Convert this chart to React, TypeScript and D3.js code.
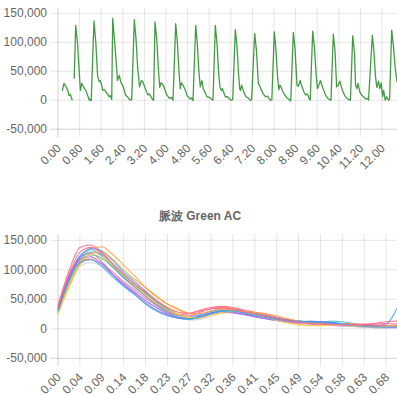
import React from 'react';
import * as d3 from 'd3';

const W = 397;
const H = 395;

// top chart: raw green signal (time in s, value in thousands)
const greenTimes = [
  0.16, 0.22, 0.29, 0.36, 0.41, 0.46, 0.49, 0.53, 0.565, 0.6, 0.656,
  0.72, 0.79, 0.83, 0.88, 0.93, 0.98, 1.03, 1.1, 1.16, 1.2, 1.23, 1.333,
  1.4, 1.47, 1.53, 1.56, 1.6, 1.66, 1.72, 1.83, 1.89, 1.94, 1.99, 2.026,
  2.09, 2.17, 2.2, 2.27, 2.32, 2.42, 2.5, 2.57, 2.67, 2.73, 2.826,
  2.89, 2.95, 3.02, 3.09, 3.14, 3.26, 3.33, 3.38, 3.48, 3.54, 3.593,
  3.66, 3.72, 3.77, 3.81, 3.86, 3.91, 3.96, 4.02, 4.08, 4.14, 4.2, 4.26, 4.359,
  4.42, 4.48, 4.53, 4.57, 4.62, 4.67, 4.72, 4.78, 4.84, 4.9, 4.95, 5.0, 5.1,
  5.16, 5.22, 5.27, 5.33, 5.38, 5.44, 5.52, 5.6, 5.68, 5.74, 5.826,
  5.89, 5.95, 6.0, 6.05, 6.09, 6.13, 6.2, 6.27, 6.35, 6.42, 6.47, 6.567,
  6.63, 6.69, 6.73, 6.76, 6.8, 6.88, 6.96, 7.04, 7.12, 7.17, 7.285,
  7.35, 7.42, 7.46, 7.51, 7.6, 7.69, 7.76, 7.86, 7.92, 8.011,
  8.07, 8.13, 8.18, 8.22, 8.27, 8.31, 8.36, 8.42, 8.48, 8.54, 8.58, 8.62, 8.715,
  8.78, 8.85, 8.9, 8.97, 9.03, 9.1, 9.17, 9.24, 9.3, 9.34, 9.433,
  9.5, 9.56, 9.61, 9.66, 9.72, 9.78, 9.84, 9.91, 9.98, 10.06, 10.11, 10.196,
  10.26, 10.32, 10.38, 10.44, 10.5, 10.56, 10.62, 10.7, 10.78, 10.83, 10.915,
  10.98, 11.02, 11.07, 11.11, 11.18, 11.26, 11.33, 11.4, 11.46, 11.5, 11.641,
  11.7, 11.76, 11.81, 11.87, 11.92, 11.97, 12.02, 12.06, 12.12, 12.17, 12.24, 12.28, 12.359,
  12.42, 12.48, 12.555,
];
const greenK: (number | null)[] = [
  16, 29, 24, 17, 8, 10, 5, 0, null, 37, 129,
  100, 46, 17, 29, 25, 20, 17, 8, 0, 2, -1, 137,
  100, 40, 32, 34, 29, 17, 18, 11, 6, 8, 1, 141,
  105, 57, 34, 43, 32, 23, 9, 6, 0, 1, 139,
  105, 57, 23, 34, 32, 17, 9, 11, 3, 0, 135,
  104, 52, 22, 30, 28, 25, 18, 10, 6, 3, 5, 0, 132,
  100, 50, 20, 30, 27, 22, 17, 8, 5, 2, 4, -1, 129,
  98, 48, 23, 34, 20, 14, 6, 5, 2, 0, 129,
  98, 46, 22, 17, 20, 14, 6, 6, 2, 0, 1, 122,
  92, 44, 20, 17, 26, 14, 6, 4, 0, 1, 115,
  86, 29, 26, 20, 11, 6, 7, 0, 1, 118,
  88, 42, 18, 26, 22, 16, 12, 8, 4, 2, 0, -1, 117,
  88, 26, 24, 34, 24, 15, 9, 11, 3, 0, 119,
  90, 44, 20, 26, 34, 25, 17, 9, 4, 1, 0, 114,
  85, 23, 26, 33, 22, 14, 8, 3, 1, 0, 111,
  82, 26, 20, 29, 14, 8, 5, 2, 3, 0, 112,
  84, 40, 22, 33, 20, 30, 6, 17, 0, 6, 0, 2, 121,
  95, 60, 31,
];
const topTickTimes = [0, 0.8, 1.6, 2.4, 3.2, 4.0, 4.8, 5.6, 6.4, 7.2, 8.0, 8.8, 9.6, 10.4, 11.2, 12.0];
const topEndTime = 12.555;

// bottom chart: overlaid pulse waves (sample index, value in thousands)
const pulseTickLabels = ['0.00', '0.04', '0.09', '0.14', '0.18', '0.23', '0.27', '0.32', '0.36', '0.41', '0.45', '0.49', '0.54', '0.58', '0.63', '0.68'];
const pulseLastIndex = 31;
const pulseA = [40, 98, 138, 142, 130, 110, 88, 72, 56, 42, 30, 22, 22, 28, 34, 36, 34, 30, 26, 22, 18, 14, 12, 11, 10, 9, 8, 7, 8, 9, 12, 13];
const pulseB = [28, 70, 112, 136, 139, 126, 108, 90, 70, 54, 42, 34, 26, 22, 28, 36, 34, 28, 24, 22, 18, 14, 11, 10, 12, 10, 7, 5, 4, 5, 6, 6];
const pulseC = [30, 80, 120, 136, 132, 116, 96, 80, 64, 48, 34, 24, 20, 24, 30, 32, 30, 27, 23, 19, 16, 13, 12, 13, 12, 10, 8, 7, 6, 5, 8, 35];
const pulseD = [26, 76, 116, 130, 126, 110, 92, 76, 60, 46, 33, 24, 18, 20, 26, 30, 31, 29, 26, 22, 18, 15, 13, 12, 11, 13, 12, 9, 6, 4, 3, 3];
const pulseE = [34, 88, 122, 128, 114, 92, 74, 60, 44, 32, 24, 18, 16, 20, 26, 28, 27, 24, 20, 17, 14, 11, 9, 8, 7, 6, 5, 4, 3, 2, 2, 2];
const pulseF = [24, 70, 108, 120, 118, 106, 90, 76, 62, 48, 36, 26, 20, 18, 22, 26, 28, 26, 22, 18, 14, 10, 6, 5, 6, 7, 6, 4, 3, 2, 3, 4];
const pulseG = [30, 78, 106, 112, 106, 92, 78, 62, 46, 36, 26, 20, 15, 16, 22, 28, 30, 28, 24, 20, 16, 13, 11, 9, 8, 6, 5, 4, 3, 2, 2, 2];
const pulseH = [32, 84, 124, 134, 124, 106, 88, 74, 60, 45, 32, 22, 18, 21, 27, 31, 32, 30, 26, 22, 18, 15, 13, 11, 12, 11, 9, 7, 5, 4, 4, 4];
const pulseI = [36, 90, 116, 118, 110, 96, 80, 66, 52, 40, 30, 24, 26, 32, 36, 38, 36, 32, 28, 24, 20, 16, 13, 12, 10, 9, 9, 8, 7, 6, 5, 5];
const pulseJ = [28, 78, 114, 125, 120, 104, 86, 70, 55, 40, 28, 19, 16, 19, 25, 29, 30, 28, 24, 21, 17, 14, 12, 11, 10, 9, 8, 6, 5, 4, 4, 4];
const pulseK = [30, 74, 110, 128, 130, 118, 100, 84, 70, 56, 42, 32, 26, 26, 30, 33, 32, 30, 28, 26, 22, 17, 13, 10, 8, 8, 9, 8, 6, 4, 3, 3];
const pulseL = [34, 86, 118, 122, 110, 92, 76, 62, 48, 36, 26, 19, 18, 22, 27, 29, 28, 25, 21, 17, 14, 12, 11, 12, 12, 10, 8, 6, 5, 4, 3, 3];
const pulseM = [26, 74, 114, 126, 122, 108, 90, 74, 58, 44, 32, 24, 19, 19, 23, 28, 30, 29, 25, 20, 14, 10, 8, 6, 5, 6, 7, 6, 4, 3, 4, 5];
const pulseN = [30, 82, 112, 117, 106, 88, 72, 58, 42, 30, 22, 18, 17, 20, 26, 30, 30, 27, 23, 19, 16, 14, 13, 12, 11, 10, 8, 6, 4, 3, 3, 3];
const pulseO = [36, 92, 130, 138, 128, 110, 92, 76, 62, 48, 36, 28, 26, 30, 34, 35, 33, 29, 25, 21, 17, 14, 11, 9, 8, 7, 6, 6, 7, 8, 9, 8];
const pulseCurves = [pulseA, pulseB, pulseC, pulseD, pulseE, pulseF, pulseG, pulseH, pulseI, pulseJ, pulseK, pulseL, pulseM, pulseN, pulseO];
const pulseColors = [
  'rgb(255, 99, 132)', 'rgb(255, 159, 64)', 'rgb(54, 162, 235)', 'rgb(75, 192, 192)', 'rgb(153, 102, 255)',
  'rgb(255, 205, 86)', 'rgb(201, 203, 207)', 'rgb(54, 162, 235)', 'rgb(255, 99, 132)', 'rgb(75, 192, 192)',
  'rgb(255, 159, 64)', 'rgb(153, 102, 255)', 'rgb(255, 205, 86)', 'rgb(54, 162, 235)', 'rgb(255, 99, 132)',
];

const yTicks = [-50000, 0, 50000, 100000, 150000];

const LEFT = 58;
const RIGHT = W;
const FONT = '"Liberation Sans", Arial, Helvetica, sans-serif';
const GRID = 'rgba(0,0,0,0.1)';
const BORDER = 'rgba(0,0,0,0.18)';

const fmt = (v: number) => v.toLocaleString('en-US');

interface PanelProps {
  plotTop: number;
  yHigh: number; // pixel of 150,000
  yLow: number; // pixel of -50,000
  tickXs: number[];
  tickLabels: string[];
  children: (y: d3.ScaleLinear<number, number>) => React.ReactNode;
}

const Panel: React.FC<PanelProps> = ({ plotTop, yHigh, yLow, tickXs, tickLabels, children }) => {
  const y = d3.scaleLinear().domain([-50000, 150000]).range([yLow, yHigh]);
  return (
    <g>
      {yTicks.map(t => (
        <g key={t}>
          <line x1={LEFT - 8} x2={RIGHT} y1={y(t)} y2={y(t)} stroke={t === -50000 ? BORDER : GRID} />
          <text x={LEFT - 11} y={y(t)} textAnchor="end" dominantBaseline="central"
            fontSize={12} fill="#666" fontFamily={FONT}>{fmt(t)}</text>
        </g>
      ))}
      {tickXs.map((x, i) => (
        <g key={i}>
          <line x1={x} x2={x} y1={plotTop} y2={yLow + 8} stroke={i === 0 ? BORDER : GRID} />
          <text transform={`translate(${x + 1},${yLow + 17}) rotate(-45)`} textAnchor="end"
            dominantBaseline="central" fontSize={12} fill="#666" fontFamily={FONT}>{tickLabels[i]}</text>
        </g>
      ))}
      {children(y)}
    </g>
  );
};

export default function App() {
  const xTop = d3.scaleLinear().domain([0, topEndTime]).range([LEFT, RIGHT]);
  const xPulse = d3.scaleLinear().domain([0, pulseLastIndex]).range([LEFT, RIGHT]);
  const pulseTickIdx = pulseTickLabels.map((_, i) => i * 2);

  return (
    <svg width={W} height={H} style={{ position: 'absolute', left: 0, top: 0, background: '#fff' }}>
      <Panel plotTop={8} yHigh={13.3} yLow={129.2}
        tickXs={topTickTimes.map(t => xTop(t))}
        tickLabels={topTickTimes.map(t => t.toFixed(2))}>
        {y => {
          const line = d3.line<number>()
            .defined(i => greenK[i] !== null)
            .x(i => xTop(greenTimes[i]))
            .y(i => y((greenK[i] as number) * 1000));
          return <path d={line(greenTimes.map((_, i) => i)) || ''} fill="none"
            stroke="rgb(34,139,34)" strokeOpacity={0.85} strokeWidth={1.3} strokeLinejoin="round" />;
        }}
      </Panel>

      <text x={200} y={216} textAnchor="middle" dominantBaseline="central" fontSize={12}
        fontWeight="bold" fill="#666" fontFamily={FONT}>脈波 Green AC</text>

      <Panel plotTop={234} yHigh={240.3} yLow={358.3}
        tickXs={pulseTickIdx.map(i => xPulse(i))}
        tickLabels={pulseTickLabels}>
        {y => (
          <g>
            {pulseCurves.map((curve, ci) => {
              const line = d3.line<number>()
                .x((_, i) => xPulse(i))
                .y(v => y(v * 1000))
                .curve(d3.curveMonotoneX);
              return <path key={ci} d={line(curve) || ''} fill="none"
                stroke={pulseColors[ci]} strokeWidth={1.1} strokeOpacity={0.85} />;
            })}
          </g>
        )}
      </Panel>
    </svg>
  );
}
